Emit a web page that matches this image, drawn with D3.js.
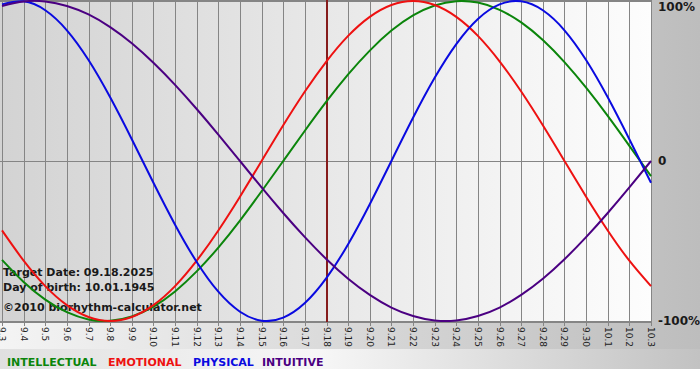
<!DOCTYPE html>
<html><head><meta charset="utf-8">
<script src="https://cdn.jsdelivr.net/npm/d3@7"></script>
<style>html,body{margin:0;padding:0;background:#fff}svg{display:block}</style>
</head><body><svg id="c" width="700" height="380"></svg>
<script>
const days = ["9.3","9.4","9.5","9.6","9.7","9.8","9.9","9.10","9.11","9.12","9.13","9.14","9.15","9.16","9.17","9.18","9.19","9.20","9.21","9.22","9.23","9.24","9.25","9.26","9.27","9.28","9.29","9.30","10.1","10.2","10.3"];
const physical = [97.9,99.8,94.2,81.7,63.1,39.8,13.6,-13.6,-39.8,-63.1,-81.7,-94.2,-99.8,-97.9,-88.8,-73.1,-52.0,-27.0,0,27.0,52.0,73.1,88.8,97.9,99.8,94.2,81.7,63.1,39.8,13.6,-13.6];
const emotional = [-43.4,-62.3,-78.2,-90.1,-97.5,-100,-97.5,-90.1,-78.2,-62.3,-43.4,-22.3,0,22.3,43.4,62.3,78.2,90.1,97.5,100,97.5,90.1,78.2,62.3,43.4,22.3,0,-22.3,-43.4,-62.3,-78.2];
const intellectual = [-61.8,-75.6,-86.6,-94.5,-99.0,-99.9,-97.2,-91.0,-81.5,-69.0,-54.1,-37.2,-18.9,0,18.9,37.2,54.1,69.0,81.5,91.0,97.2,99.9,99.0,94.5,86.6,75.6,61.8,45.8,28.2,9.5,-9.5];
const intuitive = [96.9,99.7,99.7,96.9,91.6,83.7,73.6,61.4,47.6,32.5,16.5,0,-16.5,-32.5,-47.6,-61.4,-73.6,-83.7,-91.6,-96.9,-99.7,-99.7,-96.9,-91.6,-83.7,-73.6,-61.4,-47.6,-32.5,-16.5,0];
const seriesNames = ["INTELLECTUAL","EMOTIONAL","PHYSICAL","INTUITIVE"];
const yTicks = [100, 0, -100];
const yTickLabels = ["100%","0","-100%"];
const targetDay = "9.18";
const infoLines = ["Target Date: 09.18.2025","Day of birth: 10.01.1945","©2010 biorhythm-calculator.net"];

const svg = d3.select("#c");
const W = 700, H = 380;
const plotL = 0, plotR = 651, plotT = 0, plotB = 322;
const x = d3.scalePoint().domain(days).range([2, 651]);
const y = d3.scaleLinear().domain([-100, 100]).range([321, 1]);
const px = v => Math.round(v) + 0.5;

const defs = svg.append("defs");
function grad(id, stops) {
  const g = defs.append("linearGradient").attr("id", id).attr("x1","0").attr("x2","1").attr("y1","0").attr("y2","0");
  stops.forEach(s => g.append("stop").attr("offset", s[0]).attr("stop-color", s[1]));
}
grad("outer", [[0,"#f4f4f4"],[1,"#bdbdbd"]]);
grad("plotbg", [[0,"#d3d3d3"],[1,"#fdfdfd"]]);
grad("legbg", [[0,"#e0e0e0"],[0.45,"#f7f7f7"],[1,"#c2c2c2"]]);
defs.append("clipPath").attr("id","clip").append("rect").attr("x",plotL).attr("y",plotT).attr("width",plotR-plotL+1).attr("height",plotB-plotT);

svg.append("rect").attr("width", W).attr("height", H).attr("fill", "#fff");
svg.append("rect").attr("width", W).attr("height", 349).attr("fill", "url(#outer)");
svg.append("rect").attr("x",0).attr("y",349).attr("width", W).attr("height", 20).attr("fill", "url(#legbg)");
svg.append("rect").attr("x", plotL).attr("y", plotT).attr("width", plotR - plotL).attr("height", plotB - plotT).attr("fill", "url(#plotbg)");

// grid
const grid = svg.append("g").attr("stroke", "#858585").attr("stroke-width", 1);
grid.selectAll("line.v").data(days).join("line").attr("class","v")
  .attr("x1", d => px(x(d))).attr("x2", d => px(x(d))).attr("y1", plotT).attr("y2", plotB + 4);
grid.selectAll("line.h").data(yTicks).join("line").attr("class","h")
  .attr("x1", plotL).attr("x2", px(plotR)).attr("y1", d => px(y(d))).attr("y2", d => px(y(d)));
grid.append("line").attr("x1", plotL).attr("x2", px(plotR)).attr("y1", 0.5).attr("y2", 0.5);
grid.append("line").attr("x1", plotL).attr("x2", px(plotR)).attr("y1", plotB + 0.5).attr("y2", plotB + 0.5);

// target line
svg.append("line").attr("x1", Math.round(x(targetDay))).attr("x2", Math.round(x(targetDay)))
  .attr("y1", plotT).attr("y2", plotB).attr("stroke", "#861c1c").attr("stroke-width", 2);

// info text
svg.append("g").selectAll("text").data(infoLines).join("text")
  .attr("x", 3).attr("y", (d, i) => [276, 291, 311][i])
  .attr("font-family", "DejaVu Sans, Verdana, sans-serif").attr("font-weight", "bold")
  .attr("font-size", "11px").attr("fill", "#1a1a1a").text(d => d);

// curves
const colors = {INTELLECTUAL:"#0b850b", EMOTIONAL:"#ee1111", PHYSICAL:"#0a0ae0", INTUITIVE:"#4b0082"};
const data = {INTELLECTUAL: intellectual, EMOTIONAL: emotional, PHYSICAL: physical, INTUITIVE: intuitive};
const line = d3.line().x((d, i) => x(days[i])).y(d => y(d)).curve(d3.curveNatural);
const cg = svg.append("g").attr("clip-path", "url(#clip)");
seriesNames.forEach(n => {
  cg.append("path").datum(data[n]).attr("d", line).attr("fill", "none")
    .attr("stroke", colors[n]).attr("stroke-width", 2);
});

// y labels
svg.append("g").selectAll("text").data(yTicks).join("text")
  .attr("x", 658).attr("y", d => Math.max(y(d), 7)).attr("dy", "0.36em")
  .attr("font-family", "DejaVu Sans, Verdana, sans-serif").attr("font-weight", "bold")
  .attr("font-size", "12px").attr("fill", "#1a1a1a").text((d, i) => yTickLabels[i]);

// x labels rotated
svg.append("g").selectAll("text").data(days).join("text")
  .attr("transform", d => `translate(${px(x(d))},327) rotate(90)`)
  .attr("dy", "0.35em")
  .attr("font-family", "DejaVu Sans, Verdana, sans-serif").attr("font-size", "9px")
  .attr("fill", "#222").text(d => d);

// legend
const legX = [7, 108, 193, 262];
svg.append("g").selectAll("text").data(seriesNames).join("text")
  .attr("x", (d, i) => legX[i]).attr("y", 366)
  .attr("font-family", "DejaVu Sans, Verdana, sans-serif").attr("font-weight", "bold")
  .attr("font-size", "11px").attr("fill", d => colors[d]).text(d => d);
</script></body></html>
